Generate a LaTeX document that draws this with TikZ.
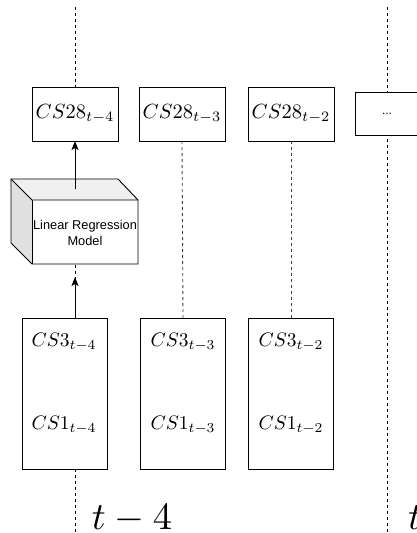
\documentclass[tikz,border=0pt]{standalone}
\usepackage{graphicx}
\usepackage{fontspec}
\newfontfamily\arialfont{Liberation Sans}
\usetikzlibrary{arrows.meta}
\newcommand{\scmath}[2]{\scalebox{#1}{$#2$}}
\begin{document}
\begin{tikzpicture}[x=1pt,y=-1pt,
  box/.style={draw=black,line width=0.9pt,fill=white,inner sep=0pt,outer sep=0pt},
  topbox/.style={box,minimum width=86pt,minimum height=54pt},
  lowbox/.style={box,minimum width=85pt,minimum height=151pt},
  lbl/.style={inner sep=0pt},
  timeline/.style={line width=0.9pt,dash pattern=on 3pt off 3pt},
  link/.style={line width=0.9pt,dash pattern=on 3pt off 3pt,draw=black!75},
  arr/.style={line width=1pt,-{Stealth[length=9pt,width=7pt,inset=2pt]}},
  face/.style={draw=black,line width=0.9pt,line join=miter}
]
\useasboundingbox (0,0) rectangle (417,533);
% time lines
\coordinate (tlAtop) at (75,7);
\coordinate (tlAbot) at (75,533);
\coordinate (tlBtop) at (387,7);
\coordinate (tlBbot) at (387,533);
\draw[timeline] (tlAtop) -- (tlAbot);
\draw[timeline] (tlBtop) -- (tlBbot);
% top boxes
\node[topbox] (o4) at (75,114) {\scmath{2.05}{CS28_{t-4}}};
\node[topbox] (o3) at (182,114) {\scmath{2.05}{CS28_{t-3}}};
\node[topbox] (o2) at (291,114) {\scmath{2.05}{CS28_{t-2}}};
\node[box,minimum width=64pt,minimum height=43pt,font=\arialfont\fontsize{12}{14}\selectfont] (odots) at (387,113.5) {...};
% lower boxes
\node[lowbox] (l4) at (65,393.5) {};
\node[lowbox] (l3) at (183,393.5) {};
\node[lowbox] (l2) at (291,393.5) {};
\node[lbl] (a4) at (64,342) {\scmath{1.95}{CS3_{t-4}}};
\node[lbl] (b4) at (64,425) {\scmath{1.95}{CS1_{t-4}}};
\node[lbl] (a3) at (183,342) {\scmath{1.95}{CS3_{t-3}}};
\node[lbl] (b3) at (183,425) {\scmath{1.95}{CS1_{t-3}}};
\node[lbl] (a2) at (291,342) {\scmath{1.95}{CS3_{t-2}}};
\node[lbl] (b2) at (291,425) {\scmath{1.95}{CS1_{t-2}}};
% cube
\fill[black!12] (11,179) -- (32,200) -- (32,264) -- (11,243) -- cycle;
\fill[black!6] (11,179) -- (118,179) -- (138,200) -- (32,200) -- cycle;
\fill[white] (32,200) rectangle (138,264);
\draw[face] (11,179) -- (118,179) -- (138,200) -- (138,264) -- (32,264) -- (11,243) -- cycle;
\draw[face] (11,179) -- (32,200) -- (138,200);
\draw[face] (32,200) -- (32,264);
\node[inner sep=0pt,align=center,font=\arialfont\fontsize{12.8}{16}\selectfont] (model) at (85,233) {Linear Regression\\Model};
% connectors
\coordinate (cubetop) at (75,189);
\coordinate (l4top) at (75,318);
\coordinate (arrtip) at (75,277);
\draw[arr] (cubetop) -- (o4.south);
\draw[arr] (l4top) -- (arrtip);
\draw[link] (o3.south) -- (l3.north);
\draw[link] (o2.south) -- (l2.north);
% time labels
\node[anchor=base,inner sep=0pt] (t4) at (132,529) {\scmath{3.85}{t-4}};
\node[anchor=base west,inner sep=0pt] (tn) at (408,529) {\scmath{3.85}{t}};
\end{tikzpicture}
\end{document}
